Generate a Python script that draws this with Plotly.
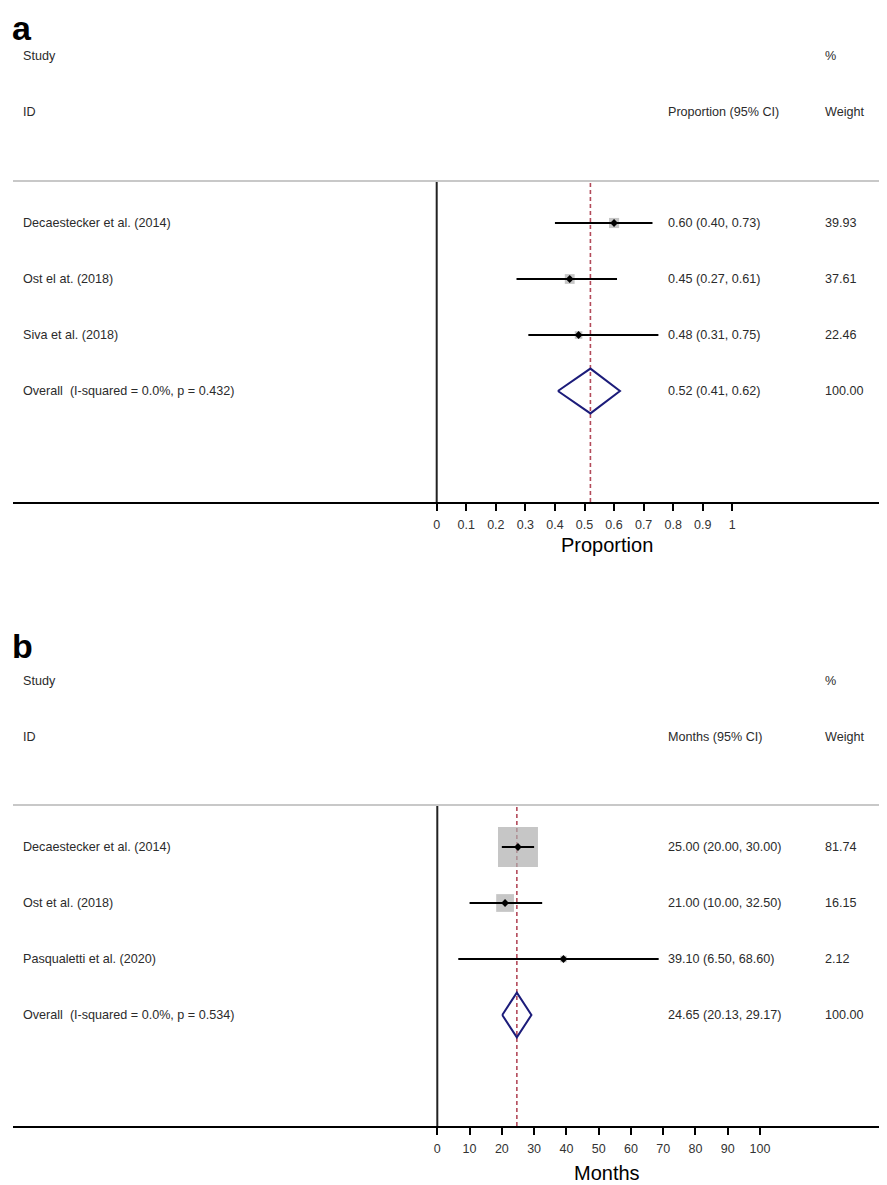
import plotly.graph_objects as go
import numpy as np

# ---------------- data ----------------
studies_a = ["Decaestecker et al. (2014)", "Ost el at. (2018)", "Siva et al. (2018)"]
est_a = [0.60, 0.45, 0.48]
lo_a = [0.40, 0.27, 0.31]
hi_a = [0.73, 0.61, 0.75]
w_a = [39.93, 37.61, 22.46]
overall_a = [0.52, 0.41, 0.62]
overall_label_a = "Overall  (I-squared = 0.0%, p = 0.432)"
ticks_a = [0, 0.1, 0.2, 0.3, 0.4, 0.5, 0.6, 0.7, 0.8, 0.9, 1]
ticklabels_a = ["0", "0.1", "0.2", "0.3", "0.4", "0.5", "0.6", "0.7", "0.8", "0.9", "1"]

studies_b = ["Decaestecker et al. (2014)", "Ost et al. (2018)", "Pasqualetti et al. (2020)"]
est_b = [25.00, 21.00, 39.10]
lo_b = [20.00, 10.00, 6.50]
hi_b = [30.00, 32.50, 68.60]
w_b = [81.74, 16.15, 2.12]
overall_b = [24.65, 20.13, 29.17]
overall_label_b = "Overall  (I-squared = 0.0%, p = 0.534)"
ticks_b = [0, 10, 20, 30, 40, 50, 60, 70, 80, 90, 100]
ticklabels_b = [str(t) for t in ticks_b]

# ---------------- layout constants ----------------
OFF = 8                    # browser body margin
W, H = 887 - OFF, 1185 - OFF
FONT = "Arial, Liberation Sans, Helvetica, sans-serif"
TXT = "#2b2b2b"
RED = "#b34a5a"
NAVY = "#1c1c7a"
GREY_BOX = "#aeaeae"

def px_x(p):
    return (p - OFF) / W

def px_y(p):
    return 1 - (p - OFF) / H

fig = go.Figure()

panels = [
    dict(studies=studies_a, est=est_a, lo=lo_a, hi=hi_a, w=w_a, ov=overall_a, ovl=overall_label_a,
         ticks=ticks_a, tlab=ticklabels_a, x0px=436.7, unitpx=295.6, k=1.6,
         xa="x", ya="y", top=181, bot=502, letter="a", letter_y=27.5, head1=56, head2=112,
         cihead="Proportion (95% CI)", title="Proportion", title_y=545),
    dict(studies=studies_b, est=est_b, lo=lo_b, hi=hi_b, w=w_b, ov=overall_b, ovl=overall_label_b,
         ticks=ticks_b, tlab=ticklabels_b, x0px=437.3, unitpx=3.227, k=4.42,
         xa="x2", ya="y2", top=805, bot=1126, letter="b", letter_y=646, head1=681, head2=737,
         cihead="Months (95% CI)", title="Months", title_y=1173),
]

annotations = []
shapes = []
ROWH = 56.0  # pixels per row
TX = -2      # annotation padding compensation

def ann(text, xpix, ypix, size=12.6, color=TXT, bold=False, xanchor="left"):
    annotations.append(dict(text=("<b>%s</b>" % text) if bold else text,
                            x=px_x(xpix + (TX if xanchor == "left" else 0)), xref="paper",
                            y=px_y(ypix), yref="paper",
                            showarrow=False, xanchor=xanchor, yanchor="middle",
                            font=dict(family=FONT, size=size, color=color)))

for i, P in enumerate(panels):
    first_px = P["top"] + 42  # pixel of row 1
    def rowval(pix, first_px=first_px):
        return 1.0 + (pix - first_px) / ROWH
    def rowpix(r, first_px=first_px):
        return first_px + (r - 1.0) * ROWH
    yr = [rowval(P["bot"]), rowval(P["top"])]  # reversed
    xr = [(13 - P["x0px"]) / P["unitpx"], (887 - P["x0px"]) / P["unitpx"]]
    rows = [1, 2, 3]
    ov_row = 4

    # grey boxes
    fig.add_trace(go.Scatter(
        x=P["est"], y=rows, mode="markers", xaxis=P["xa"], yaxis=P["ya"],
        marker=dict(symbol="square", color=GREY_BOX,
                    size=[P["k"] * np.sqrt(w) for w in P["w"]], line=dict(width=0)),
        hoverinfo="skip", showlegend=False))
    # CI and point estimate
    fig.add_trace(go.Scatter(
        x=P["est"], y=rows, mode="markers", xaxis=P["xa"], yaxis=P["ya"],
        marker=dict(symbol="diamond", color="black", size=6),
        error_x=dict(type="data", symmetric=False,
                     array=[h - e for h, e in zip(P["hi"], P["est"])],
                     arrayminus=[e - l for e, l in zip(P["est"], P["lo"])],
                     color="black", thickness=2, width=0),
        showlegend=False))
    # overall diamond
    e, l, h = P["ov"]
    dh = 0.4
    fig.add_trace(go.Scatter(
        x=[l, e, h, e, l], y=[ov_row, ov_row - dh, ov_row, ov_row + dh, ov_row],
        mode="lines", xaxis=P["xa"], yaxis=P["ya"],
        line=dict(color=NAVY, width=2), showlegend=False, hoverinfo="skip"))

    # red dashed overall line
    shapes.append(dict(type="line", xref=P["xa"], yref=P["ya"] + " domain",
                       x0=e, x1=e, y0=0, y1=1, layer="below",
                       line=dict(color=RED, width=1.6, dash="4px,3px")))
    # vertical line at zero
    shapes.append(dict(type="line", xref=P["xa"], yref=P["ya"] + " domain",
                       x0=0, x1=0, y0=0, y1=1, layer="above",
                       line=dict(color="#222222", width=2)))
    # top grey line
    shapes.append(dict(type="line", xref="paper", yref=P["ya"] + " domain",
                       x0=px_x(13), x1=1, y0=1, y1=1,
                       line=dict(color="#c8c8c8", width=2)))

    # headers
    ann("Study", 23, P["head1"])
    ann("ID", 23, P["head2"])
    ann(P["cihead"], 668, P["head2"])
    ann("%", 825, P["head1"])
    ann("Weight", 825, P["head2"])
    for r, name, ev, lv, hv, wv in zip(rows, P["studies"], P["est"], P["lo"], P["hi"], P["w"]):
        ann(name, 23, rowpix(r))
        ann("{:.2f} ({:.2f}, {:.2f})".format(ev, lv, hv), 668, rowpix(r))
        ann("{:.2f}".format(wv), 825, rowpix(r))
    ann(P["ovl"], 23, rowpix(ov_row))
    ann("{:.2f} ({:.2f}, {:.2f})".format(e, l, h), 668, rowpix(ov_row))
    ann("{:.2f}".format(100), 825, rowpix(ov_row))
    # panel letter
    ann(P["letter"], 12, P["letter_y"], size=34, color="black", bold=True)
    # axis title
    ann(P["title"], 607, P["title_y"], size=20, color="black", xanchor="center")

    xaxis = dict(domain=[px_x(13), 1], range=xr, anchor=P["ya"],
                 showgrid=False, zeroline=False, showline=True, linecolor="black", linewidth=1.5,
                 tickmode="array", tickvals=P["ticks"], ticktext=P["tlab"],
                 ticks="outside", ticklen=7, tickwidth=1.5, tickcolor="black",
                 tickfont=dict(family=FONT, size=12.5, color="#333333"),
                 ticklabelstandoff=3, fixedrange=True)
    yaxis = dict(domain=[px_y(P["bot"]), px_y(P["top"])], range=yr, anchor=P["xa"],
                 visible=False, showgrid=False, zeroline=False, fixedrange=True)
    if i == 0:
        fig.update_layout(xaxis=xaxis, yaxis=yaxis)
    else:
        fig.update_layout(xaxis2=xaxis, yaxis2=yaxis)

fig.update_layout(
    width=W, height=H,
    margin=dict(l=0, r=0, t=0, b=0),
    paper_bgcolor="white", plot_bgcolor="white",
    annotations=annotations, shapes=shapes,
    showlegend=False,
)

fig.write_html("out.html")
